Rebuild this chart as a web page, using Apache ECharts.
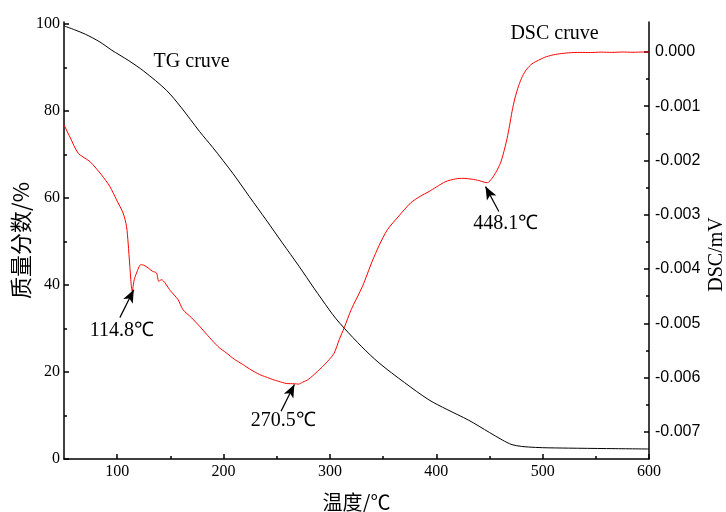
<!DOCTYPE html>
<html>
<head>
<meta charset="utf-8">
<script src="https://cdn.jsdelivr.net/npm/echarts@6/dist/echarts.min.js"></script>
<style>html,body{margin:0;padding:0;background:#fff}#c{width:726px;height:512px}</style>
</head>
<body>
<div id="c"></div>
<script>
// ---- data ----
const tgTemp = [50,60,70,83.8,95,110.3,125,146.3,160,177.5,190,208.7,224.4,240,255,271.3,285,299.4,305.6,313.4,330,346.2,370,393.1,410,430.6,450,461.9,471.2,480,486.9,500,524.4,560,600];
const tgMass = [99.6,98.7,97.7,95.9,94.0,91.7,89.2,84.8,80.9,75.3,71.6,65.7,60.3,55.0,49.8,44.2,39.3,34.3,32.3,30.1,25.8,22.1,17.6,13.6,11.4,8.9,6.1,4.4,3.3,2.9,2.75,2.6,2.5,2.4,2.3];
const dscTemp = [50,55.6,63.4,74.4,85.3,93.1,99.4,105.6,108.8,110.3,111.9,114.1,116,118.2,122.2,125,129.1,133,137,139.1,141.6,150,157.2,161.8,170,177.5,184,190,196,202.5,210,218.1,226,233.8,240,246.2,252,258.8,266.6,270.5,274.4,280,286.9,293,299.4,304,308.8,313.4,320,330.6,339.7,346.2,354,365,376,385,393.1,400,408.8,418.2,425,433.7,440,445,448.1,452.5,456,460.3,463,466.5,469,471.2,474,477.5,481,485,490,496.2,502,508.7,516,524.4,535,545,555,565,575,585,595,600];
const dscMilli = [-1.347,-1.57,-1.868,-2.022,-2.267,-2.48,-2.726,-2.971,-3.217,-3.522,-3.952,-4.412,-4.2,-4.074,-3.92,-3.93,-3.98,-4.04,-4.074,-4.228,-4.197,-4.4,-4.564,-4.748,-4.9,-5.055,-5.2,-5.331,-5.45,-5.544,-5.66,-5.759,-5.86,-5.943,-5.99,-6.035,-6.07,-6.108,-6.114,-6.12,-6.085,-6.03,-5.912,-5.8,-5.667,-5.55,-5.3,-5.085,-4.75,-4.32,-3.86,-3.57,-3.278,-3.02,-2.78,-2.66,-2.574,-2.49,-2.39,-2.34,-2.33,-2.346,-2.37,-2.401,-2.41,-2.327,-2.22,-2.052,-1.88,-1.6,-1.35,-1.1,-0.85,-0.62,-0.45,-0.32,-0.22,-0.153,-0.1,-0.061,-0.035,-0.018,-0.01,-0.012,-0.005,-0.01,-0.003,-0.008,-0.003,-0.005];
const xTicks = [100,200,300,400,500,600];
const xMinor = [150,250,350,450,550];
const yLeftTicks = [0,20,40,60,80,100];
const yLeftMinor = [10,30,50,70,90];
const yRightTicks = [-0.007,-0.006,-0.005,-0.004,-0.003,-0.002,-0.001,0];
const yRightMinor = [-0.0065,-0.0055,-0.0045,-0.0035,-0.0025,-0.0015,-0.0005];
// annotations: [label, textX, textY, arrowFromX, arrowFromY, tipX, tipY] (DSC in milli units)
const dscNotes = [
  ['114.8℃', 104.4, -5.134, 102.5, -4.896, 115.6, -4.381],
  ['270.5℃', 256.2, -6.79, 254.1, -6.618, 266.6, -6.127],
  ['448.1℃', 465.3, -3.17, 458.8, -2.941, 446.3, -2.482]
];
const curveNames = [['TG cruve', 170, 91.3], ['DSC cruve', 511.2, 0.325]];

// ---- chart ----
const serif = '"Liberation Serif","Times New Roman",serif';
const sans = '"Liberation Sans",Arial,sans-serif';
const chart = echarts.init(document.getElementById('c'));
const gridPos = {left: 64, right: 77, top: 22, bottom: 53, outerBoundsMode: 'none'};
const axisLine = {show: true, lineStyle: {color: '#000', width: 1.5}};
const tgData = tgTemp.map((t, i) => [t, tgMass[i]]);
const dscData = dscTemp.map((t, i) => [t, dscMilli[i] / 1000]);

const noteLabels = dscNotes.map(n => ({coord: [n[1], n[2] / 1000], value: n[0]}));
const noteArrows = dscNotes.map(n => [
  {coord: [n[3], n[4] / 1000], symbol: 'none'},
  {coord: [n[5], n[6] / 1000], symbol: 'arrow', symbolSize: [8, 13]}
]);
const textStyle = {show: true, position: 'inside', color: '#000', fontFamily: serif, fontSize: 20, formatter: p => p.value};

chart.setOption({
  animation: false,
  grid: [Object.assign({}, gridPos), Object.assign({}, gridPos)],
  xAxis: [
    {type: 'value', gridIndex: 0, min: 50, max: 600, position: 'bottom',
     axisLine, splitLine: {show: false},
     axisTick: {inside: true, length: 5, customValues: xTicks, lineStyle: {color: '#000', width: 1.5}},
     axisLabel: {customValues: xTicks, color: '#000', fontFamily: serif, fontSize: 16, margin: 5},
     name: '温度/℃', nameLocation: 'middle', nameGap: 33, nameMoveOverlap: false,
     nameTextStyle: {color: '#000', fontFamily: '"Noto Sans CJK SC",' + serif, fontSize: 20}},
    {type: 'value', gridIndex: 1, min: 50, max: 600, position: 'bottom',
     axisLine: {show: false}, splitLine: {show: false}, axisLabel: {show: false},
     axisTick: {inside: true, length: 3, customValues: xMinor, lineStyle: {color: '#000', width: 1.5}}}
  ],
  yAxis: [
    {type: 'value', gridIndex: 0, min: 0, max: 100.5, position: 'left',
     axisLine, splitLine: {show: false},
     axisTick: {inside: true, length: 5, customValues: yLeftTicks, lineStyle: {color: '#000', width: 1.5}},
     axisLabel: {customValues: yLeftTicks, color: '#000', fontFamily: serif, fontSize: 16, margin: 4},
     name: '质量分数/%', nameLocation: 'middle', nameGap: 32, nameRotate: 90, nameMoveOverlap: false,
     nameTextStyle: {color: '#000', fontFamily: '"Noto Sans CJK SC",' + serif, fontSize: 22}},
    {type: 'value', gridIndex: 0, min: -0.0075, max: 0.00055, position: 'right',
     axisLine, splitLine: {show: false},
     axisTick: {inside: true, length: 5, customValues: yRightTicks, lineStyle: {color: '#000', width: 1.5}},
     axisLabel: {customValues: yRightTicks, color: '#000', fontFamily: sans, fontSize: 16, margin: 6,
                 formatter: v => v.toFixed(3)},
     name: 'DSC/mV', nameLocation: 'middle', nameGap: 58, nameRotate: 90, nameMoveOverlap: false,
     nameTextStyle: {color: '#000', fontFamily: serif, fontSize: 20, padding: [0, 28, 0, 0]}},
    {type: 'value', gridIndex: 1, min: 0, max: 100.5, position: 'left',
     axisLine: {show: false}, splitLine: {show: false}, axisLabel: {show: false},
     axisTick: {inside: true, length: 3, customValues: yLeftMinor, lineStyle: {color: '#000', width: 1.5}}},
    {type: 'value', gridIndex: 1, min: -0.0075, max: 0.00055, position: 'right',
     axisLine: {show: false}, splitLine: {show: false}, axisLabel: {show: false},
     axisTick: {inside: true, length: 3, customValues: yRightMinor, lineStyle: {color: '#000', width: 1.5}}}
  ],
  series: [
    {type: 'line', name: 'TG', xAxisIndex: 0, yAxisIndex: 0, data: tgData, showSymbol: false, smooth: 0.3,
     lineStyle: {color: '#000', width: 1}, itemStyle: {color: '#000'}, silent: true,
     markPoint: {symbol: 'circle', symbolSize: 0, silent: true, label: textStyle,
       data: [{coord: [curveNames[0][1], curveNames[0][2]], value: curveNames[0][0]}]}},
    {type: 'line', name: 'DSC', xAxisIndex: 0, yAxisIndex: 1, data: dscData, showSymbol: false, smooth: 0.25,
     lineStyle: {color: '#ff0000', width: 1}, itemStyle: {color: '#ff0000'}, silent: true,
     markPoint: {symbol: 'circle', symbolSize: 0, silent: true, label: textStyle,
       data: noteLabels.concat([{coord: [curveNames[1][1], curveNames[1][2] / 1000], value: curveNames[1][0]}])},
     markLine: {silent: true, label: {show: false}, lineStyle: {color: '#000', width: 1.2, type: 'solid'},
       emphasis: {disabled: true}, data: noteArrows}}
  ]
});
</script>
</body>
</html>
